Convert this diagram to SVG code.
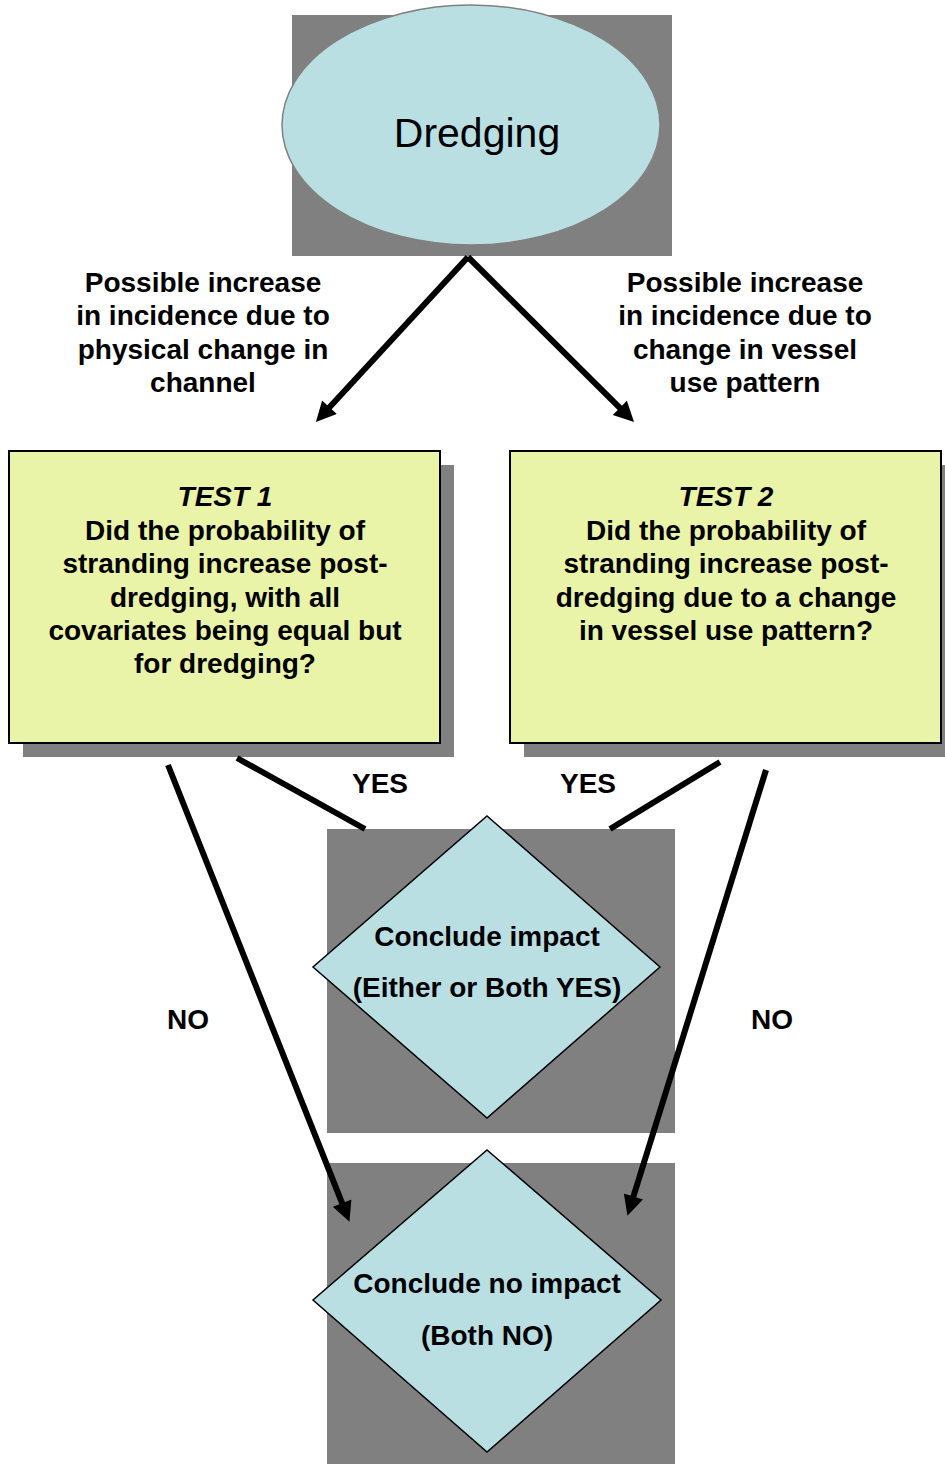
<svg xmlns="http://www.w3.org/2000/svg" width="945" height="1464" viewBox="0 0 945 1464">
  <defs>
    <marker id="head" viewBox="0 0 10 10" refX="3" refY="5" markerWidth="22" markerHeight="20" markerUnits="userSpaceOnUse" orient="auto">
      <path d="M0,0 L10,5 L0,10 z" fill="#000"/>
    </marker>
    <style>
      .shade { fill: #808080; }
      .oval { fill: #B9DFE3; stroke: #808080; stroke-width: 1.5; }
      .box { fill: #E9F4A8; stroke: #000; stroke-width: 2; }
      .gem { fill: #B9DFE3; stroke: #000; stroke-width: 1.5; }
      .t { font-family: "Liberation Sans", Arial, sans-serif; font-size: 28px; font-weight: bold; fill: #000; text-anchor: middle; }
      .big { font-family: "Liberation Sans", Arial, sans-serif; font-size: 41px; fill: #000; text-anchor: middle; }
      .line { stroke: #000; stroke-width: 6; fill: none; }
    </style>
  </defs>
  <rect width="945" height="1464" fill="#fff"/>

  <!-- start node -->
  <g id="dredging">
    <rect class="shade" x="292" y="15" width="380" height="241"/>
    <ellipse class="oval" cx="471" cy="125" rx="189" ry="120"/>
    <text class="big" x="477" y="147">Dredging</text>
  </g>

  <!-- branch labels -->
  <g id="label-physical">
    <text class="t" x="203" y="292">Possible increase</text>
    <text class="t" x="203" y="325">in incidence due to</text>
    <text class="t" x="203" y="359">physical change in</text>
    <text class="t" x="203" y="392">channel</text>
  </g>
  <g id="label-vessel">
    <text class="t" x="745" y="292">Possible increase</text>
    <text class="t" x="745" y="325">in incidence due to</text>
    <text class="t" x="745" y="359">change in vessel</text>
    <text class="t" x="745" y="392">use pattern</text>
  </g>

  <!-- test boxes -->
  <g id="test1">
    <rect class="shade" x="23" y="465" width="431" height="292"/>
    <rect class="box" x="9" y="451" width="431" height="292"/>
    <text class="t" x="225" y="506" font-style="italic">TEST 1</text>
    <text class="t" x="225" y="540">Did the probability of</text>
    <text class="t" x="225" y="573">stranding increase post-</text>
    <text class="t" x="225" y="607">dredging, with all</text>
    <text class="t" x="225" y="640">covariates being equal but</text>
    <text class="t" x="225" y="673">for dredging?</text>
  </g>
  <g id="test2">
    <rect class="shade" x="524" y="465" width="431" height="292"/>
    <rect class="box" x="510" y="451" width="431" height="292"/>
    <text class="t" x="726" y="506" font-style="italic">TEST 2</text>
    <text class="t" x="726" y="540">Did the probability of</text>
    <text class="t" x="726" y="573">stranding increase post-</text>
    <text class="t" x="726" y="607">dredging due to a change</text>
    <text class="t" x="726" y="640">in vessel use pattern?</text>
  </g>

  <!-- outcome labels -->
  <g id="answer-labels">
    <text class="t" x="380" y="793">YES</text>
    <text class="t" x="588" y="793">YES</text>
    <text class="t" x="188" y="1029">NO</text>
    <text class="t" x="772" y="1029">NO</text>
  </g>

  <!-- outcomes -->
  <g id="impact">
    <rect class="shade" x="327" y="829" width="348" height="304"/>
    <polygon class="gem" points="487,816 660,967 487,1118 313,967"/>
    <text class="t" x="487" y="946">Conclude impact</text>
    <text class="t" x="487" y="997">(Either or Both YES)</text>
  </g>
  <g id="no-impact">
    <rect class="shade" x="327" y="1163" width="348" height="301"/>
    <polygon class="gem" points="487,1150 661,1300 487,1452 313,1300"/>
    <text class="t" x="487" y="1293">Conclude no impact</text>
    <text class="t" x="487" y="1345">(Both NO)</text>
  </g>

  <!-- connectors: line ends stop short so the arrowhead tip lands on target -->
  <g id="connectors">
    <line class="line" x1="468" y1="257" x2="325.4" y2="411.7" marker-end="url(#head)"/>
    <line class="line" x1="468" y1="257" x2="624.1" y2="412.1" marker-end="url(#head)"/>
    <line class="line" x1="237" y1="758" x2="365" y2="829"/>
    <line class="line" x1="720" y1="762" x2="610" y2="829"/>
    <line class="line" x1="168" y1="765" x2="344.3" y2="1208.7" marker-end="url(#head)"/>
    <line class="line" x1="766" y1="770" x2="631.6" y2="1202.3" marker-end="url(#head)"/>
  </g>
</svg>
